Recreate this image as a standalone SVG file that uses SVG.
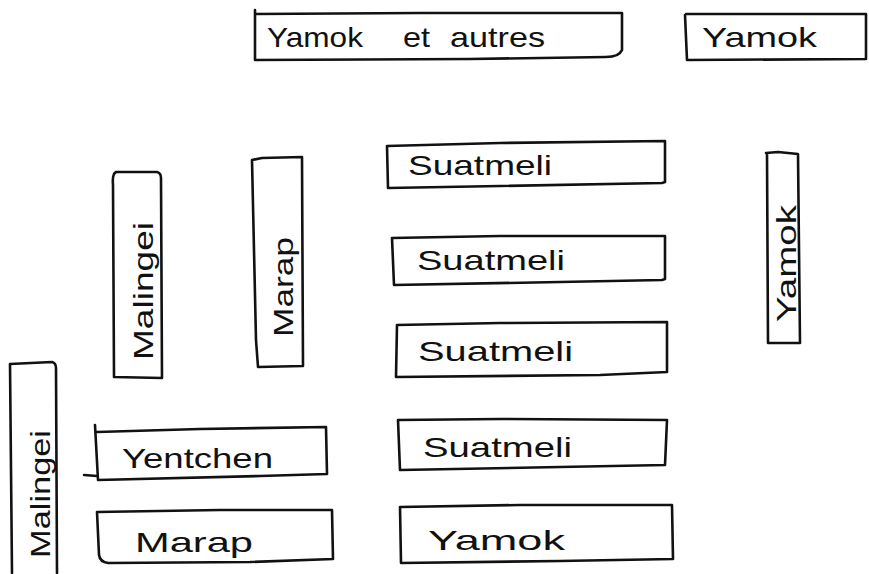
<svg xmlns="http://www.w3.org/2000/svg" width="869" height="574" viewBox="0 0 869 574">
<style>
.box{fill:none;stroke:#111;stroke-width:2.6;stroke-linejoin:round;stroke-linecap:round}
.t{font-family:"Liberation Sans","DejaVu Sans",sans-serif;fill:#111;font-size:28px}
</style>
<rect width="869" height="574" fill="#fff"/>
<g id="yamok-et-autres">
<path class="box" d="M255,10 L255,60 L470,59 L606,57 Q619,57 622,50 L622,13 L420,13 L255,14"/>
<text class="t" y="47" font-size="30"><tspan x="267" textLength="96" lengthAdjust="spacingAndGlyphs">Yamok</tspan><tspan x="403" textLength="27" lengthAdjust="spacingAndGlyphs">et</tspan><tspan x="450" textLength="95" lengthAdjust="spacingAndGlyphs">autres</tspan></text>
</g>
<g id="yamok-top">
<path class="box" d="M685,15 L687,60 L866,59 L866,14 L686,14"/>
<text class="t" x="702" y="47" font-size="30" textLength="115" lengthAdjust="spacingAndGlyphs">Yamok</text>
</g>
<g id="suatmeli-1">
<path class="box" d="M387,146 L388,188 L500,186 L662,183 L665,182 L665,141 L500,143 L387,146"/>
<text class="t" x="408" y="175" font-size="26" textLength="144" lengthAdjust="spacingAndGlyphs">Suatmeli</text>
</g>
<g id="suatmeli-2">
<path class="box" d="M392,238 L394,285 L560,282 L662,280 L665,279 L665,236 L500,236 L392,238"/>
<text class="t" x="417" y="270" font-size="27" textLength="148" lengthAdjust="spacingAndGlyphs">Suatmeli</text>
</g>
<g id="suatmeli-3">
<path class="box" d="M397,325 L396,377 L600,375 L667,372 L667,322 L500,323 L397,325"/>
<text class="t" x="418" y="361" font-size="27" textLength="155" lengthAdjust="spacingAndGlyphs">Suatmeli</text>
</g>
<g id="suatmeli-4">
<path class="box" d="M398,420 L400,470 L560,467 L665,465 L667,420 L500,419 L398,420"/>
<text class="t" x="423" y="457" font-size="27" textLength="149" lengthAdjust="spacingAndGlyphs">Suatmeli</text>
</g>
<g id="yamok-bottom">
<path class="box" d="M400,507 L401,563 L560,561 L673,559 L672,505 L520,505 L400,507"/>
<text class="t" x="428" y="550" font-size="30" textLength="137" lengthAdjust="spacingAndGlyphs">Yamok</text>
</g>
<g id="yentchen">
<path class="box" d="M95,425 L98,480 L260,476 L327,474 L326,427 L200,429 L97,432 M84,475 L97,476"/>
<text class="t" x="122" y="468" font-size="28" textLength="151" lengthAdjust="spacingAndGlyphs">Yentchen</text>
</g>
<g id="marap-bottom">
<path class="box" d="M97,512 L99,555 Q100,562 108,563 L250,562 L333,559 L332,510 L220,510 L97,512"/>
<text class="t" x="135" y="552" font-size="30" textLength="118" lengthAdjust="spacingAndGlyphs">Marap</text>
</g>
<g id="malingei-upper">
<path class="box" d="M116,172 L157,172 Q161,173 161,178 L162,378 L114,377 L113,185 Q112,174 116,172"/>
<text class="t" font-size="26" textLength="138" lengthAdjust="spacingAndGlyphs" transform="translate(153,360) rotate(-90)">Malingei</text>
</g>
<g id="marap-vertical">
<path class="box" d="M252,160 L262,158 L302,157 L303,366 L258,367 L256,340 L252,160"/>
<text class="t" font-size="28" textLength="100" lengthAdjust="spacingAndGlyphs" transform="translate(293,337) rotate(-90)">Marap</text>
</g>
<g id="yamok-vertical">
<path class="box" d="M766,153 L778,152 L798,154 L800,343 L768,343 L767,153"/>
<text class="t" font-size="26" textLength="117" lengthAdjust="spacingAndGlyphs" transform="translate(796,322) rotate(-90)">Yamok</text>
</g>
<g id="malingei-lower">
<path class="box" d="M10,364 L52,362 Q56,363 56,368 L57,573 M10,364 L12,573"/>
<text class="t" font-size="25" textLength="128" lengthAdjust="spacingAndGlyphs" transform="translate(50,558) rotate(-90)">Malingei</text>
</g>
<g id="connectors"></g>
</svg>
